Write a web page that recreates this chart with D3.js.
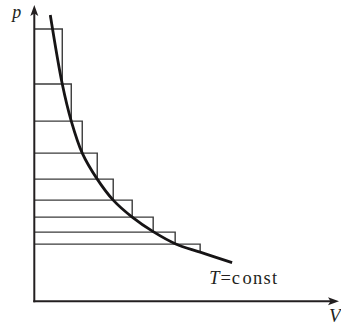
<!DOCTYPE html>
<html>
<head>
<meta charset="utf-8">
<script src="https://cdn.jsdelivr.net/npm/d3@7"></script>
<style>
  html, body { margin: 0; padding: 0; background: #fff; }
  svg { display: block; }
  text { font-family: "Liberation Serif", "DejaVu Serif", serif; fill: #231f20; }
</style>
</head>
<body>
<svg id="chart" width="341" height="325"></svg>
<script>
// Pressure levels of the stacked strips (top edge of each strip), top to bottom
const stripLevels = [27.2, 21.7, 18.0, 14.8, 12.2, 10.1, 8.4, 6.9, 5.7];
// Lower edge of the last strip
const lastStripBottom = 4.9;
// Right edge (volume) of each strip
const stripRights = [2.8, 3.7, 4.8, 6.3, 7.9, 9.8, 11.9, 14.1, 16.6];
// Isotherm T = const, sampled along the curve
const curveV = [1.6, 2.8, 3.7, 4.8, 6.3, 7.9, 9.8, 11.9, 14.1, 16.6, 19.8];
const curveP = [28.6, 21.7, 18.0, 14.8, 12.2, 10.1, 8.4, 6.95, 5.75, 4.9, 3.85];
// Axis names
const axisLabels = { x: "V", y: "p" };

const svg = d3.select("#chart");
const x = d3.scaleLinear().domain([0, 30.5]).range([34.3, 339]);
const y = d3.scaleLinear().domain([0, 29.6]).range([301.2, 5]);

const ink = "#231f20";

// Strips: top edge from the p axis, right edge down to the next level
const strips = svg.append("g")
  .attr("fill", "none")
  .attr("stroke", "#3b3b3b")
  .attr("stroke-width", 1.4);
stripLevels.forEach((p, i) => {
  const bottom = i + 1 < stripLevels.length ? stripLevels[i + 1] : lastStripBottom;
  const path = d3.path();
  path.moveTo(x(0), y(p));
  path.lineTo(x(stripRights[i]), y(p));
  path.lineTo(x(stripRights[i]), y(bottom));
  strips.append("path").attr("d", path.toString());
});

// Isotherm
const pts = curveV.map((v, i) => [v, curveP[i]]);
svg.append("path")
  .datum(pts)
  .attr("fill", "none")
  .attr("stroke", "#161415")
  .attr("stroke-width", 2.8)
  .attr("stroke-linecap", "butt")
  .attr("d", d3.line().x(d => x(d[0])).y(d => y(d[1])).curve(d3.curveCatmullRom.alpha(0.5)));

// Axes with arrowheads
const [x0, x1] = x.range();
const [y0, y1] = y.range();
const axes = svg.append("g");
axes.append("line")
  .attr("x1", x0).attr("y1", y0 + 1).attr("x2", x0).attr("y2", y1 + 6)
  .attr("stroke", ink).attr("stroke-width", 2);
axes.append("line")
  .attr("x1", x0 - 1).attr("y1", y0).attr("x2", x1 - 6).attr("y2", y0)
  .attr("stroke", ink).attr("stroke-width", 2);

// Notched arrowhead pointing in +x, tip at origin
const arrow = "M0,0 L-11,-4 L-8.5,0 L-11,4 Z";
axes.append("path")
  .attr("d", arrow)
  .attr("fill", ink)
  .attr("transform", `translate(${x1},${y0})`);
axes.append("path")
  .attr("d", arrow)
  .attr("fill", ink)
  .attr("transform", `translate(${x0},${y1}) rotate(-90)`);

// Axis labels
svg.append("text")
  .attr("x", x0 - 22).attr("y", y1 + 13)
  .attr("font-size", 18).attr("font-style", "italic")
  .text(axisLabels.y);
svg.append("text")
  .attr("x", x1 - 10).attr("y", y0 + 21)
  .attr("font-size", 19).attr("font-style", "italic")
  .text(axisLabels.x);

// Curve label
const lbl = svg.append("text")
  .attr("x", x(17.5)).attr("y", y(1.7))
  .attr("font-size", 18.5);
lbl.append("tspan").attr("font-style", "italic").text("T");
lbl.append("tspan").attr("dx", 1).text("=");
lbl.append("tspan").attr("dx", 1).text("c");
lbl.append("tspan").attr("dx", 2.5).attr("letter-spacing", 1.2).text("onst");
</script>
</body>
</html>
